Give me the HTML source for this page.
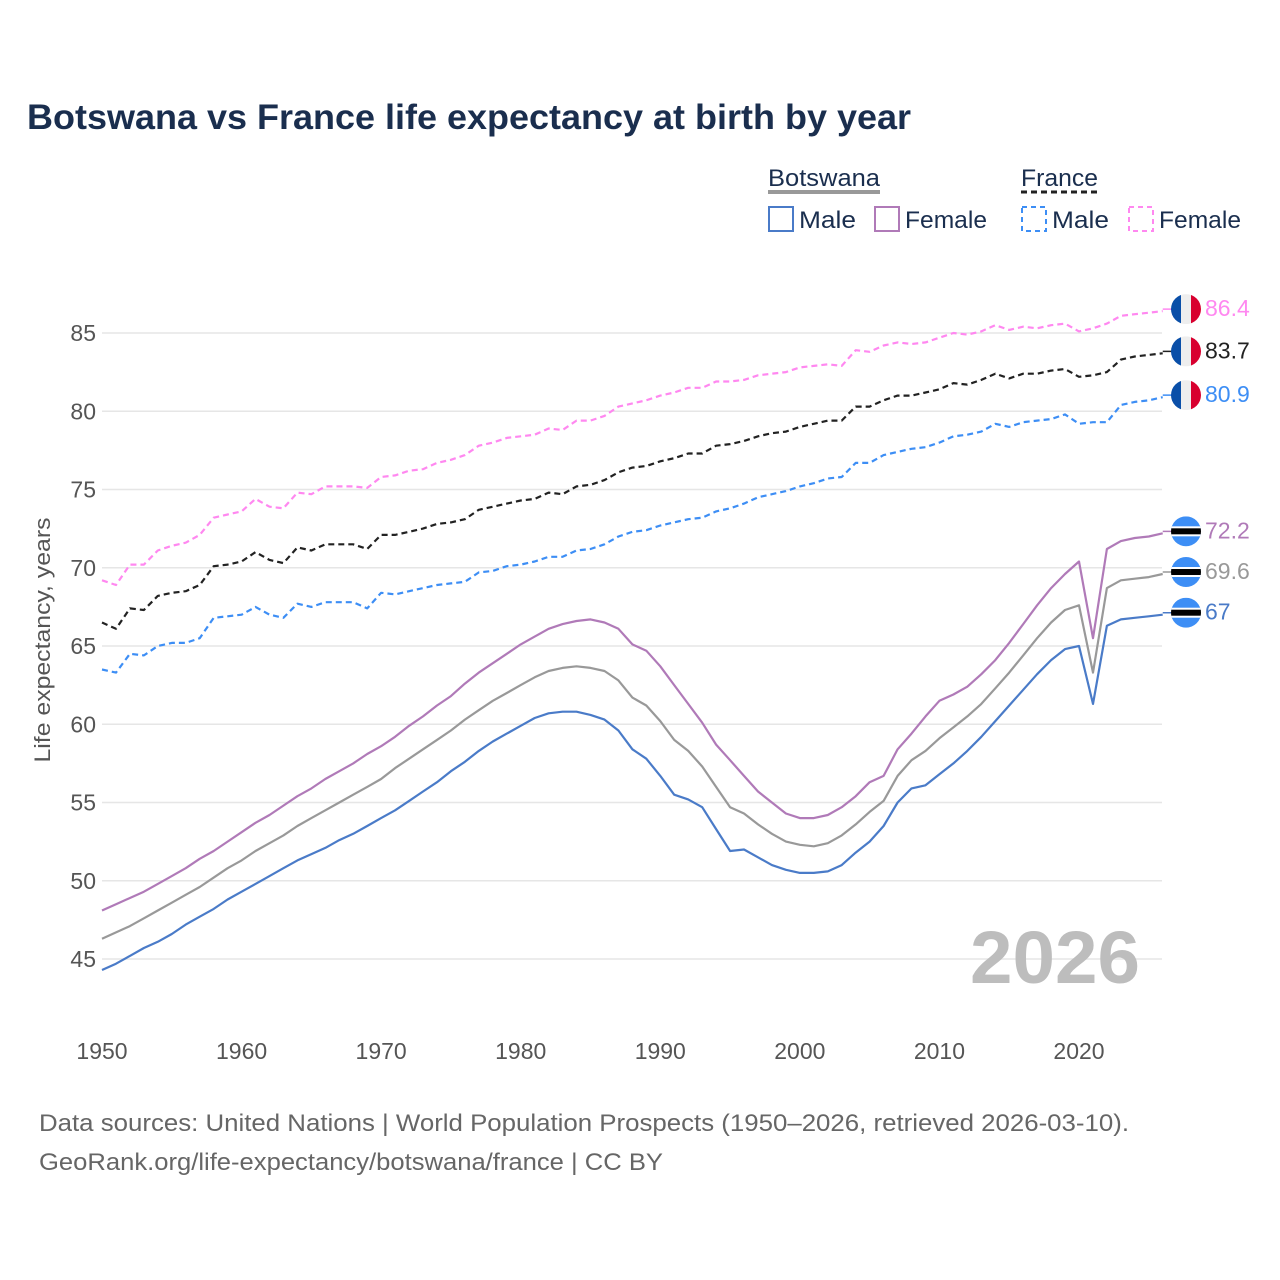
<!DOCTYPE html>
<html><head><meta charset="utf-8"><style>
html,body{margin:0;padding:0;background:#fff;width:1280px;height:1280px;overflow:hidden;font-family:"Liberation Sans",sans-serif}
svg text{font-family:"Liberation Sans",sans-serif}
</style></head><body>
<svg id="chart" width="1280" height="1280" xmlns="http://www.w3.org/2000/svg">
<text x="27" y="129" font-size="35" font-weight="bold" fill="#1a2e4e" textLength="884" lengthAdjust="spacingAndGlyphs">Botswana vs France life expectancy at birth by year</text>
<g>
 <text x="768" y="186" font-size="24" fill="#1a2e4e" textLength="112" lengthAdjust="spacingAndGlyphs">Botswana</text>
 <line x1="768" y1="192" x2="880" y2="192" stroke="#999" stroke-width="4"/>
 <text x="1021" y="186" font-size="24" fill="#1a2e4e" textLength="77" lengthAdjust="spacingAndGlyphs">France</text>
 <line x1="1021" y1="192" x2="1098" y2="192" stroke="#222" stroke-width="3" stroke-dasharray="6,4"/>
 <g><rect x="769" y="207" width="24" height="24" fill="none" stroke="#4a7bc8" stroke-width="2"/><text x="799" y="228" font-size="24" fill="#1a2e4e" textLength="57" lengthAdjust="spacingAndGlyphs">Male</text></g>
 <g><rect x="875" y="207" width="24" height="24" fill="none" stroke="#b07ab8" stroke-width="2"/><text x="905" y="228" font-size="24" fill="#1a2e4e" textLength="82" lengthAdjust="spacingAndGlyphs">Female</text></g>
 <g><rect x="1022" y="207" width="24" height="24" fill="none" stroke="#3d8ef5" stroke-width="2" stroke-dasharray="5,4"/><text x="1052" y="228" font-size="24" fill="#1a2e4e" textLength="57" lengthAdjust="spacingAndGlyphs">Male</text></g>
 <g><rect x="1129" y="207" width="24" height="24" fill="none" stroke="#ff88f0" stroke-width="2" stroke-dasharray="5,4"/><text x="1159" y="228" font-size="24" fill="#1a2e4e" textLength="82" lengthAdjust="spacingAndGlyphs">Female</text></g>
</g>
<g id="grid"></g>
<text x="1140" y="983" font-size="74" font-weight="bold" fill="#bdbdbd" text-anchor="end" textLength="170" lengthAdjust="spacingAndGlyphs">2026</text>
<g id="series"></g>
<g id="ends"></g>
<text transform="translate(50,640) rotate(-90)" font-size="22" fill="#555" text-anchor="middle" textLength="245" lengthAdjust="spacingAndGlyphs">Life expectancy, years</text>
<text x="39" y="1131" font-size="24" fill="#666" textLength="1090" lengthAdjust="spacingAndGlyphs">Data sources: United Nations | World Population Prospects (1950–2026, retrieved 2026-03-10).</text>
<text x="39" y="1170" font-size="24" fill="#666" textLength="624" lengthAdjust="spacingAndGlyphs">GeoRank.org/life-expectancy/botswana/france | CC BY</text>
</svg>
<script>
const years=[];for(let y=1950;y<=2026;y++)years.push(y);
const yTicks=[45,50,55,60,65,70,75,80,85];
const xTicks=[1950,1960,1970,1980,1990,2000,2010,2020];
const bwMale=[44.3,44.7,45.2,45.7,46.1,46.6,47.2,47.7,48.2,48.8,49.3,49.8,50.3,50.8,51.3,51.7,52.1,52.6,53.0,53.5,54.0,54.5,55.1,55.7,56.3,57.0,57.6,58.3,58.9,59.4,59.9,60.4,60.7,60.8,60.8,60.6,60.3,59.6,58.4,57.8,56.7,55.5,55.2,54.7,53.3,51.9,52.0,51.5,51.0,50.7,50.5,50.5,50.6,51.0,51.8,52.5,53.5,55.0,55.9,56.1,56.8,57.5,58.3,59.2,60.2,61.2,62.2,63.2,64.1,64.8,65.0,61.3,66.3,66.7,66.8,66.9,67.0];
const bwTotal=[46.3,46.7,47.1,47.6,48.1,48.6,49.1,49.6,50.2,50.8,51.3,51.9,52.4,52.9,53.5,54.0,54.5,55.0,55.5,56.0,56.5,57.2,57.8,58.4,59.0,59.6,60.3,60.9,61.5,62.0,62.5,63.0,63.4,63.6,63.7,63.6,63.4,62.8,61.7,61.2,60.2,59.0,58.3,57.3,56.0,54.7,54.3,53.6,53.0,52.5,52.3,52.2,52.4,52.9,53.6,54.4,55.1,56.7,57.7,58.3,59.1,59.8,60.5,61.3,62.3,63.3,64.4,65.5,66.5,67.3,67.6,63.3,68.7,69.2,69.3,69.4,69.6];
const bwFemale=[48.1,48.5,48.9,49.3,49.8,50.3,50.8,51.4,51.9,52.5,53.1,53.7,54.2,54.8,55.4,55.9,56.5,57.0,57.5,58.1,58.6,59.2,59.9,60.5,61.2,61.8,62.6,63.3,63.9,64.5,65.1,65.6,66.1,66.4,66.6,66.7,66.5,66.1,65.1,64.7,63.7,62.5,61.3,60.1,58.7,57.7,56.7,55.7,55.0,54.3,54.0,54.0,54.2,54.7,55.4,56.3,56.7,58.4,59.4,60.5,61.5,61.9,62.4,63.2,64.1,65.2,66.4,67.6,68.7,69.6,70.4,65.5,71.2,71.7,71.9,72.0,72.2];
const frMale=[63.5,63.3,64.5,64.4,65.0,65.2,65.2,65.5,66.8,66.9,67.0,67.5,67.0,66.8,67.7,67.5,67.8,67.8,67.8,67.4,68.4,68.3,68.5,68.7,68.9,69.0,69.1,69.7,69.8,70.1,70.2,70.4,70.7,70.7,71.1,71.2,71.5,72.0,72.3,72.4,72.7,72.9,73.1,73.2,73.6,73.8,74.1,74.5,74.7,74.9,75.2,75.4,75.7,75.8,76.7,76.7,77.2,77.4,77.6,77.7,78.0,78.4,78.5,78.7,79.2,79.0,79.3,79.4,79.5,79.8,79.2,79.3,79.3,80.4,80.6,80.7,80.9];
const frTotal=[66.5,66.1,67.4,67.3,68.2,68.4,68.5,68.9,70.1,70.2,70.4,71.0,70.5,70.3,71.3,71.1,71.5,71.5,71.5,71.2,72.1,72.1,72.3,72.5,72.8,72.9,73.1,73.7,73.9,74.1,74.3,74.4,74.8,74.7,75.2,75.3,75.6,76.1,76.4,76.5,76.8,77.0,77.3,77.3,77.8,77.9,78.1,78.4,78.6,78.7,79.0,79.2,79.4,79.4,80.3,80.3,80.7,81.0,81.0,81.2,81.4,81.8,81.7,82.0,82.4,82.1,82.4,82.4,82.6,82.7,82.2,82.3,82.5,83.3,83.5,83.6,83.7];
const frFemale=[69.2,68.9,70.2,70.2,71.1,71.4,71.6,72.1,73.2,73.4,73.6,74.4,73.9,73.8,74.8,74.7,75.2,75.2,75.2,75.1,75.8,75.9,76.2,76.3,76.7,76.9,77.2,77.8,78.0,78.3,78.4,78.5,78.9,78.8,79.4,79.4,79.7,80.3,80.5,80.7,81.0,81.2,81.5,81.5,81.9,81.9,82.0,82.3,82.4,82.5,82.8,82.9,83.0,82.9,83.9,83.8,84.2,84.4,84.3,84.4,84.7,85.0,84.9,85.1,85.5,85.2,85.4,85.3,85.5,85.6,85.1,85.3,85.6,86.1,86.2,86.3,86.4];
const NS='http://www.w3.org/2000/svg';
const X=y=>102+(y-1950)*(1079-102)/70;
const Y=v=>333+(85-v)*(959-333)/40;
function mk(tag,attrs,parent){const e=document.createElementNS(NS,tag);for(const k in attrs)e.setAttribute(k,attrs[k]);parent.appendChild(e);return e;}
const grid=document.getElementById('grid');
yTicks.forEach(t=>{
 const l=mk('line',{x1:102,x2:1162,y1:Y(t),y2:Y(t),stroke:'#e6e6e6','stroke-width':1.5},grid);
 
 
 const tx=mk('text',{x:96,y:Y(t)+8,'font-size':23,fill:'#555','text-anchor':'end'},grid);tx.textContent=t;
 
 
});
xTicks.forEach(t=>{
 const tx=mk('text',{x:X(t),y:1059,'font-size':23,fill:'#555','text-anchor':'middle'},grid);tx.textContent=t;
 
 
});
const seriesDefs=[
 {d:frFemale,c:'#ff88f0',dash:'6,4',n:'france-female',flag:'fr'},
 {d:frTotal,c:'#222222',dash:'6,4',n:'france-total',flag:'fr'},
 {d:frMale,c:'#3d8ef5',dash:'6,4',n:'france-male',flag:'fr'},
 {d:bwFemale,c:'#b07ab8',dash:null,n:'botswana-female',flag:'bw'},
 {d:bwTotal,c:'#999999',dash:null,n:'botswana-total',flag:'bw'},
 {d:bwMale,c:'#4a7bc8',dash:null,n:'botswana-male',flag:'bw'}];
const sg=document.getElementById('series'),eg=document.getElementById('ends');
seriesDefs.forEach(s=>{
 const pts=s.d.map((v,i)=>X(years[i]).toFixed(1)+','+Y(v).toFixed(1)).join(' ');
 const a={points:pts,fill:'none',stroke:s.c,'stroke-width':2.2,'stroke-linejoin':'round'};
 if(s.dash)a['stroke-dasharray']=s.dash;
 const p=mk('polyline',a,sg);
 
 
 const last=s.d[s.d.length-1],ly=Y(last)-2,cx=1186,r=15;
 mk('line',{x1:X(2026),x2:cx,y1:ly,y2:ly,stroke:s.c,'stroke-width':1.5},eg);
 const g=mk('g',{},eg);
 
 
 const cid='clip-'+s.n;
 const cp=mk('clipPath',{id:cid},g);mk('circle',{cx:cx,cy:ly,r:r},cp);
 const inner=mk('g',{'clip-path':'url(#'+cid+')'},g);
 if(s.flag==='fr'){
  mk('rect',{x:cx-r,y:ly-r,width:10,height:2*r,fill:'#0a4fa8'},inner);
  mk('rect',{x:cx-r+10,y:ly-r,width:10,height:2*r,fill:'#eeeeee'},inner);
  mk('rect',{x:cx-r+20,y:ly-r,width:10,height:2*r,fill:'#d8002f'},inner);
 }else{
  mk('rect',{x:cx-r,y:ly-r,width:2*r,height:2*r,fill:'#3d8ef5'},inner);
  mk('rect',{x:cx-r,y:ly-5,width:2*r,height:10,fill:'#ffffff'},inner);
  mk('rect',{x:cx-r,y:ly-3,width:2*r,height:6,fill:'#000000'},inner);
 }
 const t=mk('text',{x:1205,y:ly+7,'font-size':23,fill:s.c},eg);
 t.textContent=String(last).replace(/\.0$/,'');
 
 
});
</script>
</body></html>
